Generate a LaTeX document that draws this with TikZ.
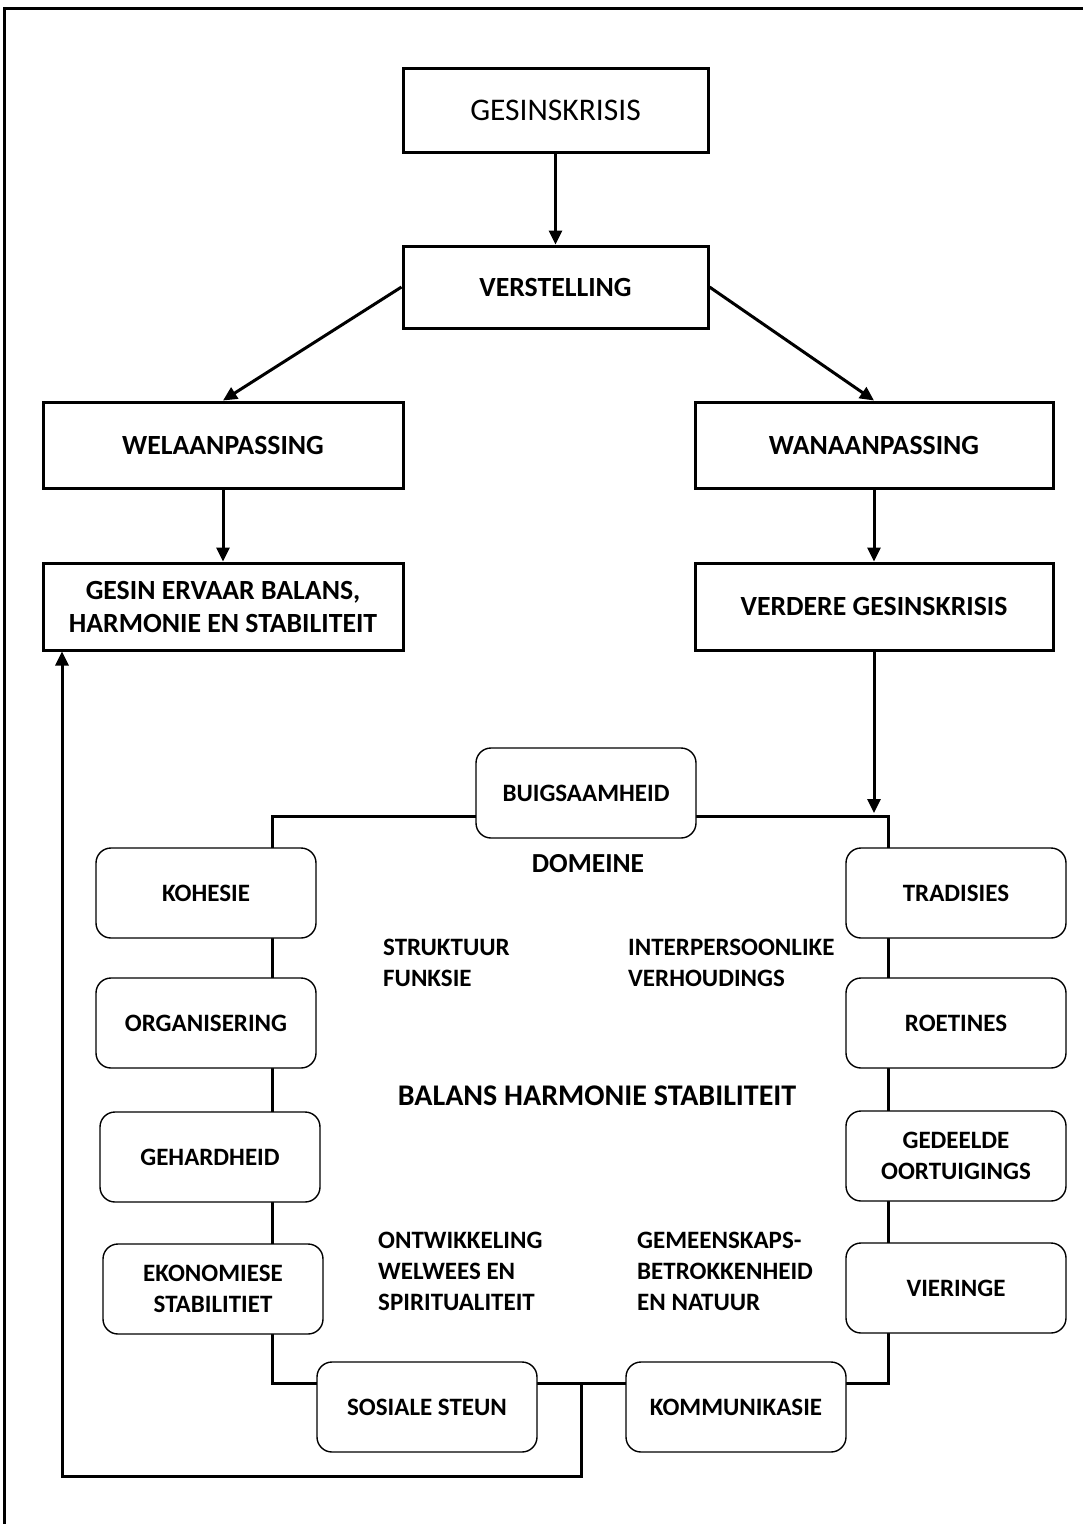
\documentclass[tikz,border=0pt]{standalone}
\usepackage{fontspec}
\setmainfont{Carlito}
\usetikzlibrary{arrows.meta,positioning}
\newcommand{\letter}{\fontsize{25}{31}\selectfont}
\newcommand{\grootletter}{\fontsize{27.75}{33}\selectfont}
\tikzset{
	hoof/.style={draw,line width=3pt,minimum width=305pt,minimum height=84pt,
		inner sep=2pt,align=center,font=\grootletter\bfseries},
	ronde/.style={draw,line width=1.4pt,rounded corners=15pt,fill=white,
		minimum width=220pt,minimum height=90pt,inner sep=2pt,align=center,font=\letter\bfseries},
	teks/.style={inner sep=0pt,align=left,font=\letter\bfseries},
	pyl/.style={line width=3pt,-{Triangle[length=14pt,width=13pt]}}
}

\begin{document}
\begin{tikzpicture}[x=1pt,y=-1pt]
	\useasboundingbox (0,0) rectangle (1083,1524);
	% raam
	\draw[line width=3pt] (4,1524) -- (4,8) -- (1083,8);

	% boonste deel
	\node[hoof,font=\fontsize{31.5}{36}\selectfont] (krisis) at (555.5,110) {GESINSKRISIS};
	\node[hoof,minimum height=82pt] (verstel) at (555.5,287) {VERSTELLING};
	\node[hoof,minimum width=360pt,minimum height=86pt] (wel) at (223,445) {WELAANPASSING};
	\node[hoof,minimum width=358pt,minimum height=86pt] (wan) at (874,445) {WANAANPASSING};
	\node[hoof,minimum width=360pt,minimum height=87pt] (ervaar) at (223,606.5) {GESIN ERVAAR BALANS,\\HARMONIE EN STABILITEIT};
	\node[hoof,minimum width=358pt,minimum height=87pt] (verder) at (874,606.5) {VERDERE GESINSKRISIS};

	\draw[pyl] (krisis) -- (verstel);
	\draw[pyl] (verstel.west) -- (wel.north);
	\draw[pyl] (verstel.east) -- (wan.north);
	\draw[pyl] (wel) -- (ervaar);
	\draw[pyl] (wan) -- (verder);

	% domeine
	\coordinate (lo) at (272,816);
	\coordinate (ru) at (888,1383);
	\draw[line width=3pt] (lo) rectangle (ru);
	\draw[pyl,shorten >=3pt] (verder.south) -- (verder.south |- lo);

	\coordinate (aftak) at (581,1383);
	\coordinate (terug) at (581,1476);
	\coordinate (hoek) at (62,1476);
	\draw[pyl] (aftak) -- (terug) -- (hoek) -- (hoek |- ervaar.south);

	\node[ronde] (buig) at (586,793) {BUIGSAAMHEID};
	\node[ronde] (kohesie) at (206,893) {KOHESIE};
	\node[ronde] (organ) at (206,1023) {ORGANISERING};
	\node[ronde] (gehard) at (210,1157) {GEHARDHEID};
	\node[ronde] (ekonom) at (213,1289) {EKONOMIESE\\STABILITIET};
	\node[ronde] (sosiaal) at (427,1407) {SOSIALE STEUN};
	\node[ronde] (kommun) at (736,1407) {KOMMUNIKASIE};
	\node[ronde] (viering) at (956,1288) {VIERINGE};
	\node[ronde] (oortuig) at (956,1156) {GEDEELDE\\OORTUIGINGS};
	\node[ronde] (roetine) at (956,1023) {ROETINES};
	\node[ronde] (tradisie) at (956,893) {TRADISIES};

	\node[teks,font=\fontsize{27.5}{33}\selectfont\bfseries] (domeine) at (588,864) {DOMEINE};
	\node[teks,anchor=west] (struktuur) at (383,963) {STRUKTUUR\\FUNKSIE};
	\node[teks,anchor=west] (interpers) at (628,963) {INTERPERSOONLIKE\\VERHOUDINGS};
	\node[teks,font=\fontsize{30}{36}\selectfont\bfseries] (balans) at (597,1096) {BALANS HARMONIE STABILITEIT};
	\node[teks,anchor=west] (ontwikkel) at (378,1271) {ONTWIKKELING\\WELWEES EN\\SPIRITUALITEIT};
	\node[teks,anchor=west] (gemeensk) at (637,1271) {GEMEENSKAPS-\\BETROKKENHEID\\EN NATUUR};
\end{tikzpicture}
\end{document}
